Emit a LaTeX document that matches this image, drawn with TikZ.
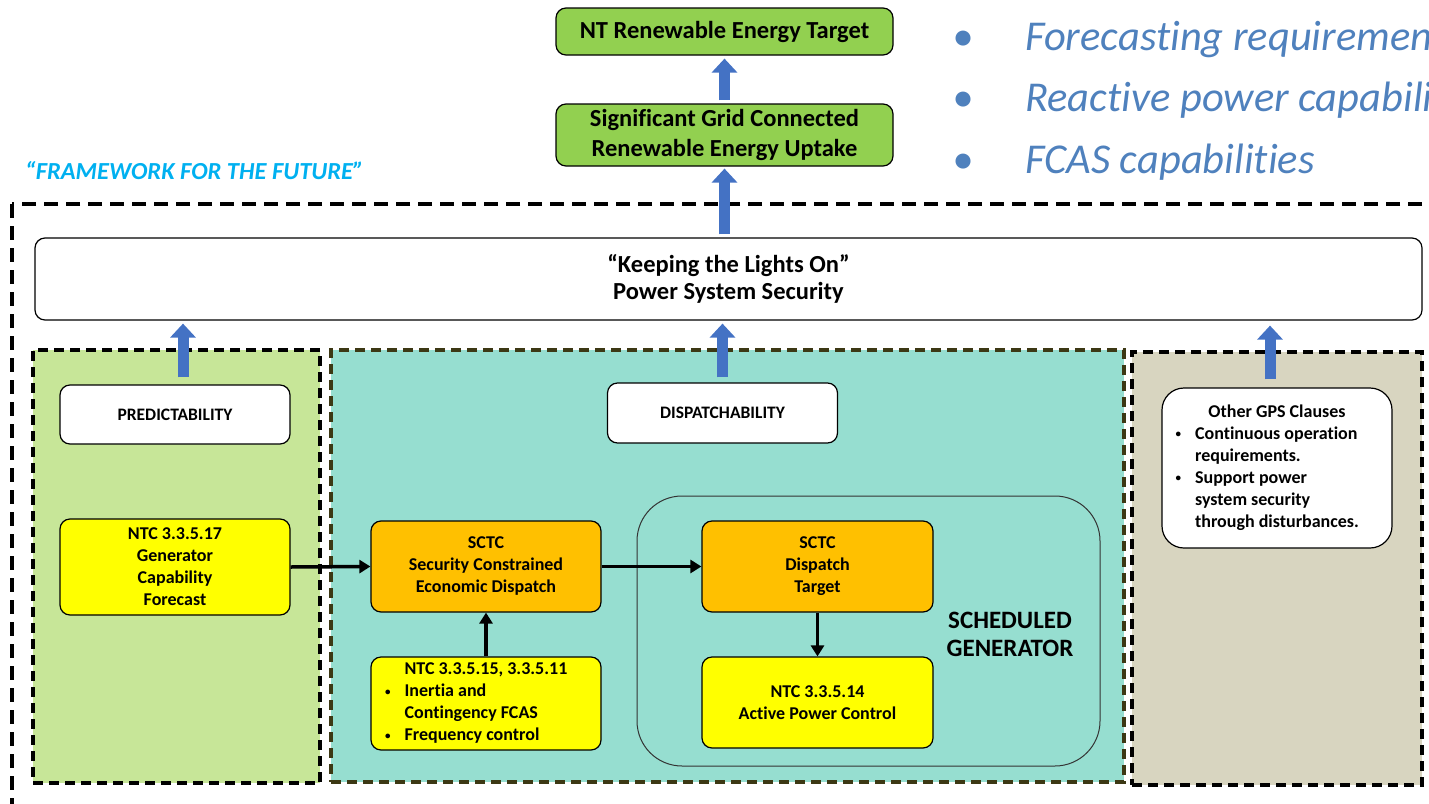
\documentclass[tikz,border=0pt]{standalone}
\usepackage{fontspec}
\setmainfont{Carlito}[Ligatures={NoCommon}]
\usetikzlibrary{arrows.meta}

\definecolor{vertfort}{RGB}{146,208,80}
\definecolor{vertclair}{RGB}{199,230,152}
\definecolor{turquoise}{RGB}{150,222,208}
\definecolor{beige}{RGB}{216,213,192}
\definecolor{jaune}{RGB}{255,255,0}
\definecolor{orange}{RGB}{255,192,0}
\definecolor{bleuflèche}{RGB}{68,114,196}
\definecolor{bleutexte}{RGB}{79,129,189}
\definecolor{cyan}{RGB}{0,176,240}
\definecolor{olive}{RGB}{60,56,20}

\newcommand{\puce}{\llap{\raisebox{1.5pt}{\fontsize{11}{11}\selectfont\textbullet}\hspace{14pt}}}

\tikzset{
  boite/.style={draw=black, line width=1.2pt, rounded corners=10pt, align=center, inner sep=0pt,
    font=\fontsize{18}{22}\selectfont\bfseries},
  boiteverte/.style={boite, fill=vertfort, minimum width=337pt, font=\fontsize{24.5}{30}\selectfont\bfseries},
  boiteblanche/.style={boite, fill=white, minimum width=230pt, minimum height=59pt, font=\fontsize{17.5}{20}\selectfont\bfseries},
  boitejaune/.style={boite, fill=jaune, minimum width=230pt},
  boiteorange/.style={boite, fill=orange, minimum width=230pt, minimum height=91pt},
  zone/.style={line width=3.2pt, dash pattern=on 10pt off 6pt, minimum width=#1},
  flechebleue/.style={draw=bleuflèche, line width=11pt, -{Triangle[width=25pt,length=14pt]}},
  flechenoire/.style={draw=black, line width=3.5pt, -{Triangle[width=13pt,length=11pt]}}
}

\begin{document}
\begin{tikzpicture}[x=1pt, y=-1pt]
    % Cadre de l'image
    \clip (0,0) rectangle (1429,803);

    % Objectifs en haut
    \node[boiteverte, minimum height=47pt] (cible) at (724.5,31.5) {NT Renewable Energy Target};
    \node[boiteverte, minimum height=62pt] (essor) at (724.5,135) {Significant Grid Connected\\Renewable Energy Uptake};

    % Liste en bleu a droite
    \begin{scope}[every node/.style={anchor=base west, text=bleutexte, font=\fontsize{42.5}{48}\selectfont\itshape, inner sep=0pt}]
      \node (puceA) at (952,50) {\textbullet};
      \node (puceB) at (952,111) {\textbullet};
      \node (puceC) at (952,173) {\textbullet};
      \node (prevision) at (1025,50) {Forecasting requirements};
      \node (reactif) at (1025,111) {Reactive power capabilities};
      \node (fcas) at (1025,173) {FCAS capabilities};
    \end{scope}

    % Titre du cadre
    \node[anchor=base west, inner sep=0pt, text=cyan, font=\fontsize{24.5}{28}\selectfont\bfseries\itshape] (cadretitre) at (25,179) {“FRAMEWORK FOR THE FUTURE”};

    % Grand cadre en tirets
    \draw[line width=4pt, dash pattern=on 14pt off 8pt] (12,204) rectangle (1480,860);

    % Securite du reseau
    \node[boite, fill=white, minimum width=1387pt, minimum height=82pt, font=\fontsize{24.5}{27}\selectfont\bfseries] (lumieres) at (728.5,279) {“Keeping the Lights On”\\Power System Security};

    % Les trois zones
    \node[zone=287pt, draw=black, fill=vertclair, minimum height=433pt] (zonepred) at (176.5,566.5) {};
    \node[zone=793pt, draw=olive, fill=turquoise, minimum height=432pt] (zonedisp) at (727.5,566) {};
    \node[zone=290pt, draw=black, fill=beige, minimum height=433pt] (zoneautre) at (1277,568.5) {};

    % Generateur programme
    \node[draw=black!80, line width=1pt, rounded corners=45pt, minimum width=463pt, minimum height=270pt] (generateur) at (868.5,631) {};
    \node[font=\fontsize{25}{28}\selectfont\bfseries, align=center] (gentitre) at (1010,634) {SCHEDULED\\GENERATOR};

    % Boites blanches
    \node[boiteblanche] (predict) at (175,414.5) {PREDICTABILITY};
    \node[boiteblanche, minimum height=60pt] (dispatch) at (722.5,413) {DISPATCHABILITY};
    \node[boite, fill=white, rounded corners=22pt, minimum width=230pt, minimum height=160pt] (gps) at (1277,468)
      {\begin{tabular}{@{}l@{}}\multicolumn{1}{c}{Other GPS Clauses}\\ \puce Continuous operation\\ requirements.\\ \puce Support power\\ system security\\ through disturbances.\end{tabular}};

    % Boites jaunes et orange
    \node[boitejaune, minimum height=96pt] (capacite) at (175,567) {NTC 3.3.5.17\\Generator\\Capability\\Forecast};
    \node[boiteorange] (sced) at (486,566.5) {SCTC\\Security Constrained\\Economic Dispatch};
    \node[boitejaune, minimum height=93pt] (inertie) at (486,703.5)
      {\begin{tabular}{@{}l@{}}NTC 3.3.5.15, 3.3.5.11\\ \puce Inertia and\\ Contingency FCAS\\ \puce Frequency control\end{tabular}};
    \node[boiteorange, minimum width=231pt] (cibledisp) at (817.5,566.5) {SCTC\\Dispatch\\Target};
    \node[boitejaune, minimum width=231pt, minimum height=91pt] (puissance) at (817.5,702.5) {NTC 3.3.5.14\\Active Power Control};

    % Fleches bleues
    \draw[flechebleue, shorten <=3pt, shorten >=3pt] (essor.north) -- (cible.south);
    \draw[flechebleue, shorten <=3pt, shorten >=2pt] (essor.south |- lumieres.north) -- (essor.south);
    \draw[flechebleue, shorten <=7pt, shorten >=3pt] ([xshift=8pt]predict.north) -- ([xshift=8pt]predict.north |- lumieres.south);
    \draw[flechebleue, shorten <=5pt, shorten >=3pt] (dispatch.north) -- (dispatch.north |- lumieres.south);
    \draw[flechebleue, shorten <=8pt, shorten >=5pt] ([xshift=-7pt]gps.north) -- ([xshift=-7pt]gps.north |- lumieres.south);

    % Fleches noires
    \draw[flechenoire] (capacite.east) -- (sced.west);
    \draw[flechenoire] (sced.east) -- (cibledisp.west);
    \draw[flechenoire] (inertie.north) -- (sced.south);
    \draw[flechenoire] (cibledisp.south) -- (puissance.north);
\end{tikzpicture}
\end{document}
